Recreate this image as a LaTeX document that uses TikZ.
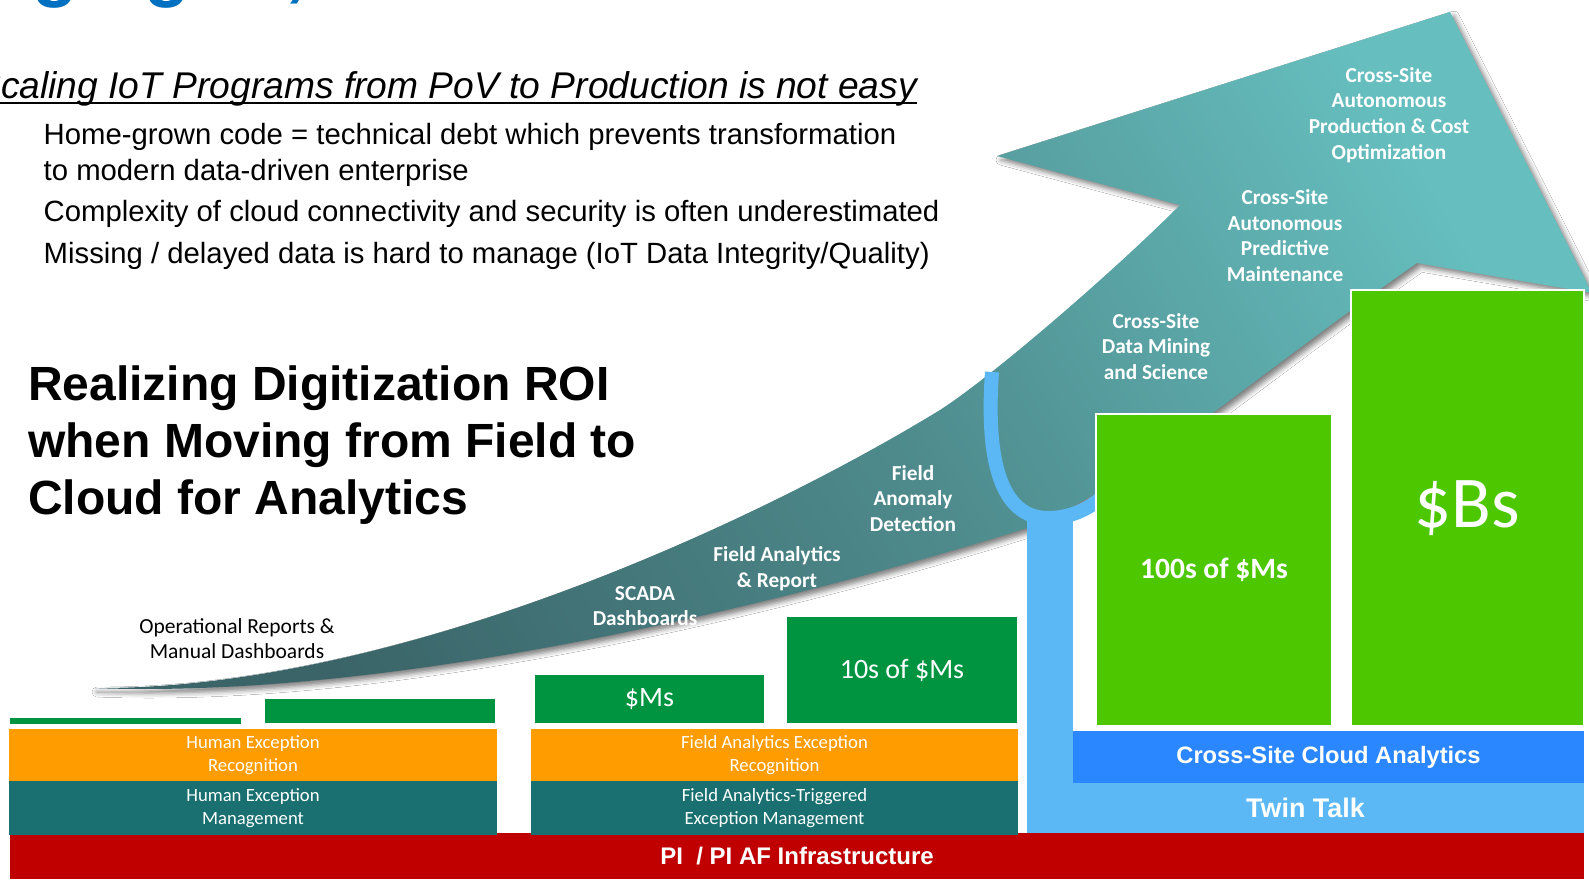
\documentclass[tikz,border=0pt]{standalone}
\usepackage{fontspec}
\setmainfont{Liberation Sans}
\newfontfamily\calib{Carlito}
\usetikzlibrary{shadows.blur}
\definecolor{ttlblue}{RGB}{0,112,192}
\definecolor{dkgreen}{RGB}{0,148,64}
\definecolor{ltgreen}{RGB}{76,199,0}
\definecolor{orng}{RGB}{255,156,0}
\definecolor{tealbar}{RGB}{26,112,112}
\definecolor{redbar}{RGB}{192,0,0}
\definecolor{skyblue}{RGB}{91,184,245}
\definecolor{cloudblue}{RGB}{43,135,255}
\definecolor{arrdark}{RGB}{58,100,104}
\definecolor{arrmid}{RGB}{78,138,140}
\definecolor{arrlight}{RGB}{102,190,190}
\begin{document}
\begin{tikzpicture}[x=1pt,y=-1pt,
  bx/.style={inner sep=0pt, outer sep=0pt, anchor=north west, align=center, text=white},
  barlbl/.style={font=\calib\fontsize{18.7}{22.5}\selectfont},
  arrlbl/.style={align=center, text=white, inner sep=0pt, font=\calib\bfseries\fontsize{21.3}{25.8}\selectfont},
  txt/.style={anchor=base west, inner sep=0pt},
  grnbox/.style={bx, draw=white, line width=1.5pt},
]
\useasboundingbox (0,0) rectangle (1589,879);
\fill[white] (0,0) rectangle (1589,879);

% cut-off title
\node[txt, font=\bfseries\fontsize{74.7}{80}\selectfont, text=ttlblue] (ttl) at (-209,-8) {Leveraging AI, IIoT and Cloud to Accelerate};

% subtitle and bullets
\node[txt, font=\itshape\fontsize{37.2}{40}\selectfont] (sub) at (-24,98) {Scaling IoT Programs from PoV to Production is not easy};
\draw[line width=2.2pt] ([yshift=-5pt]sub.base west) -- ([yshift=-5pt]sub.base east);
\node[txt, font=\fontsize{29.3}{32}\selectfont] (b1) at (43.5,144.5) {Home-grown code = technical debt which prevents transformation};
\node[txt, font=\fontsize{29.3}{32}\selectfont] (b2) at (43.5,180) {to modern data-driven enterprise};
\node[txt, font=\fontsize{29.3}{32}\selectfont] (b3) at (43.5,221.5) {Complexity of cloud connectivity and security is often underestimated};
\node[txt, font=\fontsize{29.3}{32}\selectfont] (b4) at (43.5,263) {Missing / delayed data is hard to manage (IoT Data Integrity/Quality)};

% big title
\node[txt, font=\bfseries\fontsize{48}{57}\selectfont] (h1) at (28,400) {Realizing Digitization ROI};
\node[txt, font=\bfseries\fontsize{48}{57}\selectfont] (h2) at (28,457) {when Moving from Field to};
\node[txt, font=\bfseries\fontsize{48}{57}\selectfont] (h3) at (28,514) {Cloud for Analytics};

% arrow
\path[blur shadow={shadow xshift=4pt, shadow yshift=-4pt, shadow blur radius=5pt, shadow opacity=50},
      top color=arrlight, bottom color=arrdark, middle color=arrmid, shading angle=-60]
  (93,688) .. controls (400,690) and (760,520) .. (940,410)
  .. controls (990,378) and (1110,275) .. (1180,205)
  -- (997,156) -- (1450,12) -- (1592,293) -- (1417,263)
  .. controls (1250,380) and (1150,470) .. (1040,524)
  .. controls (800,600) and (400,700) .. (93,688) -- cycle;

% U curve
\draw[skyblue, line width=14pt] (992,372) .. controls (985,470) and (1005,518) .. (1048,518)
  .. controls (1075,518) and (1095,505) .. (1110,490);

% bars
\node[bx, fill=redbar, minimum width=1574pt, minimum height=46pt, font=\bfseries\fontsize{24}{26}\selectfont] (infra) at (10,833) {PI\ \ / PI AF Infrastructure};
\node[bx, fill=orng, minimum width=488pt, minimum height=52pt, barlbl] (her) at (9,729) {Human Exception\\Recognition};
\node[bx, fill=tealbar, minimum width=488pt, minimum height=54pt, barlbl] (hem) at (9,781) {Human Exception\\Management};
\node[bx, fill=orng, minimum width=487pt, minimum height=52pt, barlbl] (far) at (531,729) {Field Analytics Exception\\Recognition};
\node[bx, fill=tealbar, minimum width=487pt, minimum height=54pt, barlbl] (fat) at (531,781) {Field Analytics-Triggered\\Exception Management};

\node[bx, fill=dkgreen, minimum width=231pt, minimum height=6pt] (g0) at (10,718) {};
\node[grnbox, fill=dkgreen, minimum width=232pt, minimum height=26pt] (g1) at (264,698) {};
\node[grnbox, fill=dkgreen, minimum width=231pt, minimum height=50pt, font=\calib\fontsize{28}{30}\selectfont] (gms) at (534,674) {\$Ms};
\node[grnbox, fill=dkgreen, minimum width=232pt, minimum height=108pt, font=\calib\fontsize{28}{30}\selectfont] (g10) at (786,616) {10s of \$Ms};

\node[bx, fill=skyblue, minimum width=46pt, minimum height=321pt] (strip) at (1027,512) {};
\node[bx, fill=skyblue, minimum width=557pt, minimum height=50pt, font=\bfseries\fontsize{26.9}{28}\selectfont] (twin) at (1027,783) {Twin Talk};
\node[bx, fill=cloudblue, minimum width=511pt, minimum height=52pt, font=\bfseries\fontsize{23.7}{26}\selectfont] (cloud) at (1073,731) {Cross-Site Cloud Analytics};
\node[grnbox, fill=ltgreen, minimum width=236pt, minimum height=312pt, font=\calib\bfseries\fontsize{29.5}{32}\selectfont] (g100) at (1096,414) {100s of \$Ms};
\node[grnbox, fill=ltgreen, minimum width=233pt, minimum height=436pt, font=\calib\fontsize{73}{75}\selectfont] (gbs) at (1351,290) {\$Bs};

% arrow labels
\node[arrlbl] (l7) at (1389,115) {Cross-Site\\Autonomous\\Production \& Cost\\Optimization};
\node[arrlbl] (l6) at (1285,235.5) {Cross-Site\\Autonomous\\Predictive\\Maintenance};
\node[arrlbl] (l5) at (1156,346.5) {Cross-Site\\Data Mining\\and Science};
\node[arrlbl] (l4) at (913,498.5) {Field\\Anomaly\\Detection};
\node[arrlbl] (l3) at (777,568.5) {Field Analytics\\\& Report};
\node[arrlbl] (l2) at (645,606) {SCADA\\Dashboards};
\node[arrlbl, text=black, font=\calib\fontsize{21.5}{25.7}\selectfont] (l1) at (237,638.5) {Operational Reports \&\\Manual Dashboards};
\end{tikzpicture}
\end{document}
